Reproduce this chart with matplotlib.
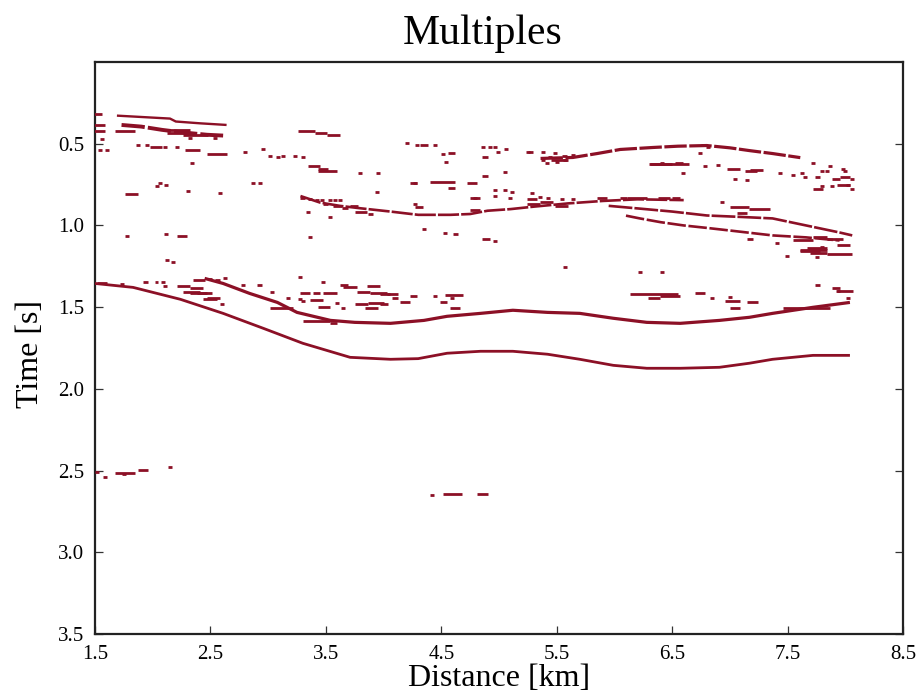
import matplotlib
matplotlib.use("Agg")
import matplotlib.pyplot as plt
import numpy as np

plt.rcParams['font.family'] = ['Liberation Serif', 'DejaVu Serif']

INK = '#8c1026'

# ---- picked reflection events (distance km, time s) ----
upper_x = [2.45, 2.61, 2.84, 3.08, 3.25, 3.54, 3.75, 4.06, 4.35, 4.55, 4.84, 5.12,
           5.42, 5.70, 5.99, 6.28, 6.57, 6.91, 7.17, 7.37, 7.72, 8.04]
upper_t = [1.324, 1.355, 1.416, 1.471, 1.532, 1.581, 1.593, 1.599, 1.581, 1.556, 1.538, 1.519,
           1.532, 1.538, 1.568, 1.593, 1.599, 1.581, 1.562, 1.538, 1.501, 1.471]

lower_x = [1.50, 1.83, 2.24, 2.61, 2.96, 3.30, 3.71, 4.06, 4.30, 4.55, 4.84, 5.12,
           5.42, 5.70, 5.99, 6.28, 6.57, 6.91, 7.17, 7.37, 7.72, 8.04]
lower_t = [1.355, 1.379, 1.452, 1.538, 1.630, 1.721, 1.807, 1.819, 1.815, 1.782, 1.770, 1.770,
           1.788, 1.819, 1.856, 1.874, 1.874, 1.868, 1.843, 1.819, 1.795, 1.795]

mid1_x = [3.28, 3.45, 3.62, 3.80, 4.06, 4.30, 4.58, 4.75, 4.90, 5.10, 5.30, 5.60, 5.90, 6.20, 6.60]
mid1_t = [0.82, 0.86, 0.88, 0.895, 0.915, 0.935, 0.935, 0.93, 0.91, 0.90, 0.885, 0.865, 0.85, 0.84, 0.845]

mid2_x = [5.95, 6.22, 6.50, 6.80, 7.10, 7.37, 7.66, 7.95, 8.06]
mid2_t = [0.88, 0.897, 0.915, 0.939, 0.948, 0.957, 1.0, 1.043, 1.061]

mid3_x = [6.10, 6.22, 6.40, 6.60, 6.80, 7.00, 7.37, 7.66, 7.95]
mid3_t = [0.94, 0.957, 0.98, 1.0, 1.015, 1.031, 1.061, 1.073, 1.092]

shallow_x = [5.36, 5.64, 5.85, 6.05, 6.33, 6.55, 6.80, 7.00, 7.17, 7.37, 7.61]
shallow_t = [0.59, 0.584, 0.56, 0.535, 0.523, 0.515, 0.511, 0.525, 0.542, 0.560, 0.585]

top1_x = [1.69, 2.15, 2.20, 2.41, 2.64]
top1_t = [0.328, 0.346, 0.364, 0.375, 0.385]

top2_x = [1.73, 1.90, 2.08, 2.25, 2.47, 2.61]
top2_t = [0.385, 0.395, 0.415, 0.43, 0.445, 0.45]

# ---- short horizontal fragments: start km, end km, time s ----
frag_x0 = [1.483, 1.483, 1.483, 1.673, 1.976, 2.280, 2.470, 3.259, 3.406, 3.510,
           4.315, 4.558, 4.853, 5.251, 5.546, 4.853, 4.229, 4.402, 4.558, 4.723,
           4.272, 4.749, 4.749, 5.242, 5.242, 5.355, 5.485, 5.849, 6.048, 6.109,
           6.377, 6.498, 4.853, 4.603, 3.276, 3.475, 3.562, 3.640, 3.709, 3.752,
           3.865, 1.760, 2.210, 3.345, 3.432, 3.432, 6.308, 6.524, 6.975, 7.131,
           7.174, 7.737, 7.884, 7.954, 7.720, 7.928, 6.134, 6.395, 6.291, 6.698,
           6.958, 7.148, 7.001, 7.460, 7.737, 7.884, 7.928, 3.969, 4.030, 4.229,
           4.532, 4.073, 4.142, 3.969, 4.489, 4.575, 1.520, 1.916, 2.020, 2.349,
           2.479, 2.540, 2.609, 2.210, 2.323, 2.262, 2.323, 2.384, 2.436, 2.470,
           2.903, 3.622, 3.648, 3.856, 3.770, 3.882, 3.276, 3.389, 3.475, 3.363,
           3.432, 3.752, 3.839, 3.865, 3.016, 3.302, 3.536, 1.673, 1.872, 1.734,
           4.515, 4.809, 7.547, 7.720, 7.841, 7.607, 7.668, 7.928, 7.607, 7.841,
           7.694, 7.148, 5.450, 6.300, 7.000, 7.170, 7.060, 2.124, 2.124, 2.262]
frag_x1 = [1.561, 1.587, 1.587, 1.846, 2.080, 2.410, 2.644, 3.406, 3.510, 3.622,
           4.385, 4.619, 4.905, 5.294, 5.589, 4.905, 4.289, 4.619, 4.619, 4.809,
           4.341, 4.835, 4.835, 5.329, 5.355, 5.468, 5.598, 5.935, 6.109, 6.282,
           6.481, 6.568, 4.922, 4.645, 3.319, 3.518, 3.640, 3.692, 3.778, 3.856,
           3.908, 1.872, 2.297, 3.449, 3.518, 3.596, 6.498, 6.594, 7.088, 7.235,
           7.287, 7.781, 7.954, 8.040, 7.807, 8.040, 6.550, 6.568, 6.395, 6.784,
           7.088, 7.244, 7.088, 7.867, 7.781, 7.954, 8.066, 4.056, 4.125, 4.289,
           4.688, 4.125, 4.229, 4.038, 4.549, 4.662, 1.600, 1.959, 2.046, 2.453,
           2.514, 2.583, 2.644, 2.323, 2.436, 2.410, 2.470, 2.514, 2.557, 2.583,
           2.947, 3.692, 3.770, 3.969, 3.882, 4.030, 3.363, 3.449, 3.596, 3.475,
           3.536, 3.865, 3.952, 4.003, 3.215, 3.536, 3.596, 1.846, 1.959, 1.770,
           4.679, 4.905, 7.720, 7.841, 7.980, 7.841, 7.841, 8.040, 7.781, 8.058,
           7.841, 7.200, 5.600, 6.650, 7.170, 7.350, 7.150, 2.323, 2.323, 2.479]
frag_t = [0.316, 0.383, 0.425, 0.425, 0.517, 0.541, 0.560, 0.425, 0.432, 0.444,
          0.505, 0.554, 0.584, 0.548, 0.572, 0.700, 0.743, 0.737, 0.768, 0.743,
          0.890, 0.829, 0.908, 0.841, 0.866, 0.859, 0.878, 0.829, 0.829, 0.835,
          0.829, 0.835, 1.085, 1.055, 0.829, 0.866, 0.884, 0.896, 0.884, 0.915,
          0.927, 0.810, 1.067, 0.639, 0.652, 0.664, 0.621, 0.615, 0.652, 0.664,
          0.658, 0.706, 0.713, 0.706, 0.774, 0.755, 1.422, 1.434, 1.446, 1.416,
          1.465, 1.471, 1.507, 1.507, 1.367, 1.385, 1.403, 1.422, 1.422, 1.434,
          1.428, 1.446, 1.471, 1.483, 1.471, 1.507, 1.355, 1.348, 1.348, 1.336,
          1.330, 1.336, 1.324, 1.373, 1.385, 1.409, 1.416, 1.416, 1.452, 1.446,
          1.367, 1.367, 1.379, 1.373, 1.409, 1.416, 1.416, 1.416, 1.416, 1.458,
          1.501, 1.483, 1.507, 1.477, 1.507, 1.587, 1.599, 2.516, 2.498, 2.522,
          2.644, 2.644, 1.092, 1.073, 1.085, 1.153, 1.140, 1.122, 1.159, 1.177,
          1.171, 1.085, 0.597, 0.621, 0.890, 0.902, 0.921, 0.413, 0.432, 0.444]

# ---- isolated specks: km, s ----
dot_x = [1.561, 1.543, 1.604, 1.872, 1.950, 2.106, 2.210, 2.340, 2.323, 2.540,
         2.799, 2.955, 3.016, 3.085, 3.129, 3.233, 3.302, 3.796, 3.952, 2.037,
         2.063, 2.115, 2.306, 2.583, 2.869, 2.929, 3.363, 3.423, 3.466, 3.536,
         3.579, 3.622, 3.345, 3.536, 2.115, 1.777, 3.363, 2.124, 2.176, 4.203,
         4.289, 4.445, 4.515, 4.541, 4.861, 4.922, 4.965, 4.991, 5.060, 5.251,
         5.381, 5.485, 5.641, 5.381, 5.416, 5.442, 5.502, 5.571, 5.052, 4.272,
         4.965, 5.052, 5.112, 4.965, 5.095, 5.286, 5.355, 5.424, 5.546, 5.641,
         4.350, 4.532, 4.965, 5.571, 6.221, 6.412, 3.943, 4.272, 4.792, 6.767,
         6.810, 6.741, 6.412, 6.594, 6.784, 6.897, 7.148, 7.044, 7.434, 7.547,
         7.625, 7.651, 7.720, 7.798, 7.841, 7.867, 7.980, 7.997, 8.058, 7.798,
         7.884, 8.023, 8.058, 6.932, 7.408, 7.495, 7.798, 7.755, 7.936, 3.276,
         3.475, 2.782, 3.033, 3.172, 3.276, 3.302, 2.106, 2.600, 1.734, 2.089,
         4.445, 4.593, 6.845, 7.001, 8.023, 3.596, 3.648, 4.419, 2.150, 1.587,
         1.517]
dot_t = [0.474, 0.541, 0.541, 0.505, 0.505, 0.523, 0.523, 0.615, 0.462, 0.462,
         0.548, 0.535, 0.578, 0.584, 0.578, 0.578, 0.584, 0.676, 0.682, 0.761,
         0.743, 0.755, 0.792, 0.804, 0.743, 0.743, 0.841, 0.847, 0.847, 0.847,
         0.847, 0.847, 0.915, 0.951, 1.055, 1.067, 1.073, 1.214, 1.226, 0.493,
         0.505, 0.505, 0.560, 0.609, 0.517, 0.523, 0.523, 0.548, 0.535, 0.548,
         0.548, 0.554, 0.566, 0.597, 0.615, 0.584, 0.609, 0.597, 0.670, 0.743,
         0.786, 0.786, 0.798, 0.817, 0.829, 0.804, 0.823, 0.829, 0.841, 0.841,
         1.024, 1.049, 1.098, 1.257, 1.287, 1.287, 0.798, 0.866, 0.829, 0.505,
         0.523, 0.554, 0.615, 0.682, 0.639, 0.633, 0.719, 0.713, 0.682, 0.694,
         0.682, 0.706, 0.615, 0.664, 0.664, 0.639, 0.652, 0.664, 0.713, 0.761,
         0.761, 0.755, 0.774, 0.859, 1.110, 1.189, 1.134, 1.196, 1.403, 1.318,
         1.348, 1.367, 1.409, 1.446, 1.452, 1.465, 1.373, 1.483, 1.361, 1.348,
         1.434, 1.446, 1.446, 1.440, 1.446, 1.477, 1.507, 2.650, 2.479, 2.540,
         2.510]

x_ticks = [1.5, 2.5, 3.5, 4.5, 5.5, 6.5, 7.5, 8.5]
t_ticks = [0.5, 1.0, 1.5, 2.0, 2.5, 3.0, 3.5]

fig = plt.figure(figsize=(9.24, 6.97), dpi=100)
ax = fig.add_axes([0.1028, 0.0904, 0.8745, 0.8206])

LW = 2.0
events = [
    (upper_x, upper_t, 2.3, '-'),
    (lower_x, lower_t, 2.0, '-'),
    (mid1_x, mid1_t, 1.9, (0, (8, 0.8))),
    (mid2_x, mid2_t, 1.9, (0, (9, 0.8))),
    (mid3_x, mid3_t, 1.9, (0, (7, 1.0))),
    (shallow_x, shallow_t, 2.3, (0, (7, 0.8))),
    (top1_x, top1_t, 1.7, '-'),
    (top2_x, top2_t, 2.8, (0, (6, 0.8))),
]
for ex, et, lw, ls in events:
    ax.plot(ex, et, color=INK, lw=lw, ls=ls, solid_capstyle='butt',
            dash_capstyle='butt', zorder=3)

ax.hlines(frag_t, frag_x0, frag_x1, colors=INK, lw=LW, zorder=3)
dx = np.asarray(dot_x)
ax.hlines(dot_t, dx - 0.018, dx + 0.018, colors=INK, lw=LW, zorder=3)

ax.set_xlim(1.5, 8.5)
ax.set_ylim(3.5, 0.0)
ax.set_xticks(x_ticks)
ax.set_yticks(t_ticks)
ax.set_xticklabels([f"{v:.1f}" for v in x_ticks])
ax.set_yticklabels([f"{v:.1f}" for v in t_ticks])
ax.tick_params(axis='both', direction='in', length=6, width=0.9, color='#333333',
               labelsize=15, pad=8)
ax.tick_params(axis='y', right=True)
for s in ax.spines.values():
    s.set_linewidth(1.6)
    s.set_color('#222222')

ax.set_xlabel("Distance [km]", fontsize=23)
ax.xaxis.set_label_coords(0.5, -0.052)
ax.set_ylabel("Time [s]", fontsize=23)
ax.yaxis.set_label_coords(-0.062, 0.49)

fig.text(0.522, 0.937, "Multiples", fontsize=30, ha='center', va='baseline')

fig.savefig("out.png", dpi=100, facecolor='white')
